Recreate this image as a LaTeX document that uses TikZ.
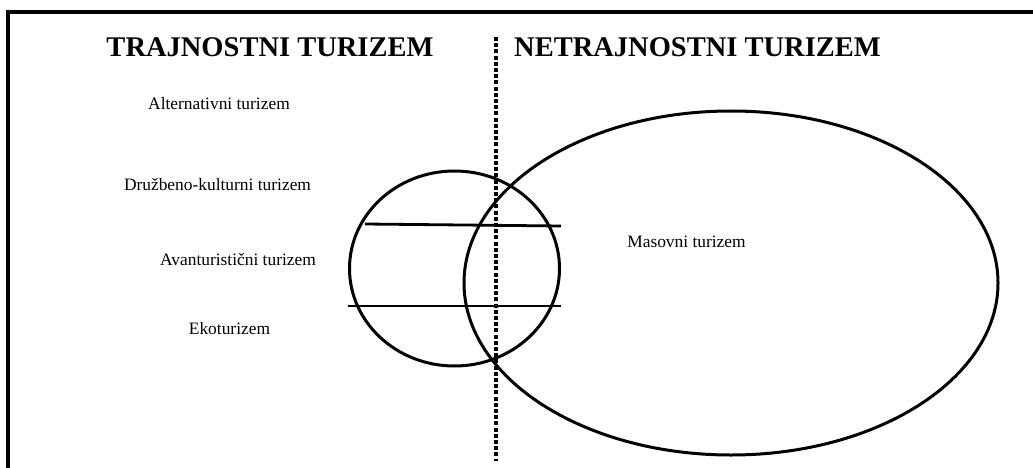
\documentclass[tikz,border=0pt]{standalone}
\usepackage{fontspec}
\setmainfont{Liberation Serif}
\usetikzlibrary{shapes.geometric}
\begin{document}
\begin{tikzpicture}[x=1pt,y=-1pt,
  title/.style={font=\fontsize{28.5}{30}\selectfont\bfseries, inner sep=0pt},
  lbl/.style={font=\fontsize{17.4}{19}\selectfont, inner sep=0pt},
  ring/.style={draw, ellipse, line width=3pt, inner sep=0pt},
  bar/.style={line width=2.8pt},
  frame/.style={line width=3.2pt},
  divider/.style={line width=3.4pt, dash pattern=on 4pt off 2.2pt}]
\useasboundingbox (0,0) rectangle (1033,468);
% frame
\coordinate (fl) at (8,468);
\coordinate (ftl) at (8,12);
\coordinate (ftr) at (1033,12);
\draw[frame] (fl) -- (ftl) -- (ftr);
% titles
\node[title] (t1) at (270,47) {TRAJNOSTNI TURIZEM};
\node[title] (t2) at (697.5,47) {NETRAJNOSTNI TURIZEM};
% divider
\coordinate (d1) at (496,37);
\coordinate (d2) at (496,461);
\draw[divider] (d1) -- (d2);
% shapes
\node[ring, minimum width=210, minimum height=195] (small) at (454.5,268.5) {};
\node[ring, minimum width=534, minimum height=344] (big) at (731,283) {};
% bars
\coordinate (a1) at (365,224);
\coordinate (a2) at (561,226);
\coordinate (b1) at (348,306);
\coordinate (b2) at (561,306);
\draw[bar] (a1) -- (a2);
\draw[bar] (b1) -- (b2);
% labels
\node[lbl] (l1) at (219,104) {Alternativni turizem};
\node[lbl] (l2) at (217.5,185) {Družbeno-kulturni turizem};
\node[lbl] (l3) at (238,260) {Avanturistični turizem};
\node[lbl] (l4) at (229.5,329) {Ekoturizem};
\node[lbl] (l5) at (686.5,242) {Masovni turizem};
\end{tikzpicture}
\end{document}
